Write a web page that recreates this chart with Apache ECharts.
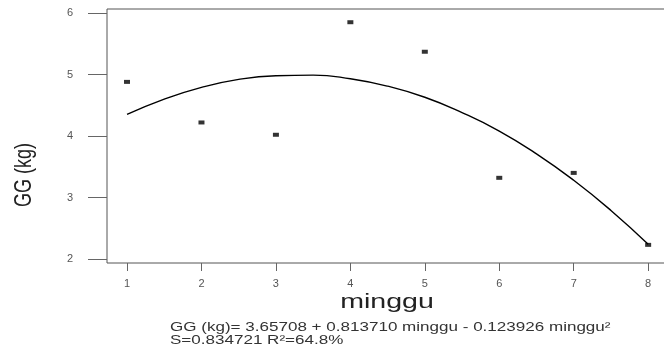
<!DOCTYPE html>
<html>
<head>
<meta charset="utf-8">
<script src="https://cdn.jsdelivr.net/npm/echarts@6/dist/echarts.min.js"></script>
<style>html,body{margin:0;padding:0;background:#fff}#c{width:664px;height:354px}</style>
</head>
<body>
<div id="c"></div>
<script>
var weeks = [1, 2, 3, 4, 5, 6, 7, 8];
var gg = [4.88, 4.22, 4.02, 5.85, 5.37, 3.32, 3.40, 2.23];
var fitX = [1, 1.5, 2, 2.5, 3, 3.5, 4, 4.5, 5, 5.5, 6, 6.5, 7, 7.5, 8];
var fitY = [4.35, 4.60, 4.79, 4.92, 4.98, 4.99, 4.93, 4.81, 4.63, 4.38, 4.08, 3.71, 3.28, 2.79, 2.24];
var xTicks = [1, 2, 3, 4, 5, 6, 7, 8];
var yTicks = [2, 3, 4, 5, 6];
var xName = 'minggu';
var yName = 'GG (kg)';
var eqLine1 = 'GG (kg)= 3.65708 + 0.813710 minggu - 0.123926 minggu²';
var eqLine2 = 'S=0.834721 R²=64.8%';

var font = 'Liberation Sans, Arial, sans-serif';
var chart = echarts.init(document.getElementById('c'), null, {renderer: 'canvas'});
chart.setOption({
  animation: false,
  backgroundColor: '#fff',
  grid: {left: 107, top: 9, right: -5, bottom: 91, outerBoundsMode: 'none', containLabel: false, show: true, borderColor: '#555', borderWidth: 1, backgroundColor: 'transparent'},
  xAxis: {
    type: 'value', min: 0.731, max: 8.28,
    axisLine: {show: false},
    splitLine: {show: false},
    axisTick: {show: true, length: 8, customValues: xTicks, lineStyle: {color: '#666'}},
    axisLabel: {customValues: xTicks, margin: 15, fontSize: 11, color: '#555', fontFamily: font}
  },
  yAxis: {
    type: 'value', min: 1.935, max: 6.065,
    axisLine: {show: false},
    splitLine: {show: false},
    axisTick: {show: true, length: 19, customValues: yTicks, lineStyle: {color: '#666'}},
    axisLabel: {customValues: yTicks, margin: 34, fontSize: 11, color: '#555', fontFamily: font}
  },
  series: [
    {
      type: 'line', smooth: true, symbol: 'none',
      data: fitX.map(function (x, i) { return [x, fitY[i]]; }),
      lineStyle: {color: '#000', width: 1.4}
    },
    {
      type: 'scatter', symbol: 'rect', symbolSize: [6, 4],
      data: weeks.map(function (x, i) { return [x, gg[i]]; }),
      itemStyle: {color: '#000'}
    }
  ],
  graphic: [
    {type: 'text', x: 387, y: 302, scaleX: 1.36, style: {text: xName, align: 'center', verticalAlign: 'middle', fontSize: 21, fill: '#222', fontFamily: font}},
    {type: 'text', x: 25, y: 175, rotation: Math.PI / 2, scaleY: 1.3, style: {text: yName, align: 'center', verticalAlign: 'middle', fontSize: 18, fill: '#222', fontFamily: font}},
    {type: 'text', x: 170, y: 328, scaleX: 1.42, style: {text: eqLine1, align: 'left', verticalAlign: 'middle', fontSize: 12, fill: '#333', fontFamily: font}},
    {type: 'text', x: 170, y: 341, scaleX: 1.42, style: {text: eqLine2, align: 'left', verticalAlign: 'middle', fontSize: 12, fill: '#333', fontFamily: font}}
  ]
});
</script>
</body>
</html>
